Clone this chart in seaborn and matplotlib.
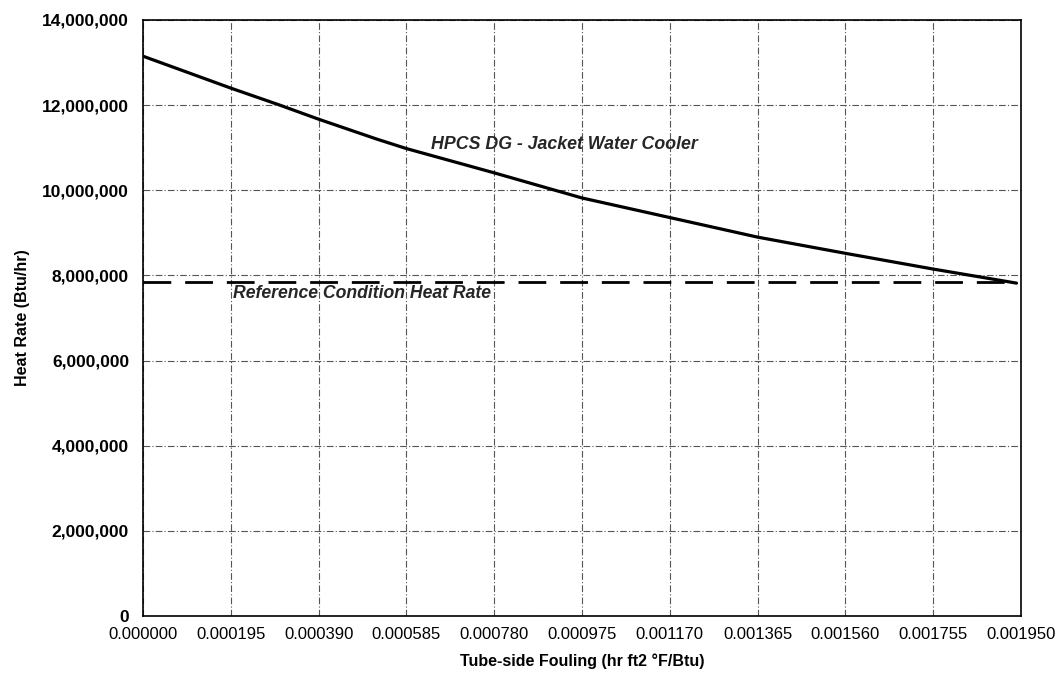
import matplotlib
matplotlib.use("Agg")
import matplotlib.pyplot as plt
import matplotlib.ticker as mticker
import seaborn as sns
import pandas as pd
import numpy as np

# Data
fouling = [0.0, 0.000195, 0.000304, 0.00039, 0.00052, 0.000585, 0.00078, 0.000975,
           0.00117, 0.001365, 0.00156, 0.001755, 0.00194]
heat_rate = [13150000, 12400000, 12000000, 11670000, 11200000, 10980000, 10410000,
             9820000, 9360000, 8900000, 8520000, 8150000, 7820000]
ref_fouling = [0.0, 0.00194]
ref_heat_rate = [7850000, 7850000]
x_ticks = [0.0, 0.000195, 0.00039, 0.000585, 0.00078, 0.000975, 0.00117,
           0.001365, 0.00156, 0.001755, 0.00195]
y_ticks = [0, 2000000, 4000000, 6000000, 8000000, 10000000, 12000000, 14000000]

sns.set_theme(style="white")
plt.rcParams['font.family'] = ['Liberation Sans', 'DejaVu Sans']

fig = plt.figure(figsize=(10.64, 6.8), dpi=100)
ax = fig.add_axes([0.1344, 0.094, 0.8252, 0.8766])

df = pd.DataFrame({"x": fouling, "y": heat_rate})
dref = pd.DataFrame({"x": ref_fouling, "y": ref_heat_rate})

sns.lineplot(data=df, x="x", y="y", ax=ax, color="black", linewidth=2.3, zorder=3)
sns.lineplot(data=dref, x="x", y="y", ax=ax, color="black", linewidth=2.0,
             dashes=False, zorder=3)
ax.lines[-1].set_dashes([10, 5])

ax.set_xlim(0, 0.00195)
ax.set_ylim(0, 14000000)
ax.set_xticks(x_ticks)
ax.set_yticks(y_ticks)
ax.xaxis.set_major_formatter(mticker.FuncFormatter(lambda v, p: f"{v:.6f}"))
ax.yaxis.set_major_formatter(mticker.FuncFormatter(lambda v, p: f"{int(round(v)):,}"))

ax.grid(True, color="#555555", linestyle=(0, (6, 2, 1, 2)), linewidth=0.8)
for s in ax.spines.values():
    s.set_color("black")
    s.set_linewidth(1.2)

ax.tick_params(axis="both", which="major", labelsize=12.5, colors="black",
               direction="out", length=4, width=1)
ax.tick_params(axis="x", pad=4, labelsize=12)
ax.tick_params(axis="y", pad=6)
for lab in ax.get_yticklabels():
    lab.set_fontweight("bold")

ax.set_xlabel("Tube-side Fouling (hr ft2 °F/Btu)", fontsize=11.5, fontweight="bold",
              labelpad=8, color="black")
ax.set_ylabel("Heat Rate (Btu/hr)", fontsize=11.5, fontweight="bold", color="black")
ax.yaxis.set_label_coords(-0.129, 0.5)

ax.text(0.00064, 11080000, "HPCS DG - Jacket Water Cooler", fontsize=12.8,
        fontweight="bold", fontstyle="italic", va="center", ha="left")
ax.text(0.0002, 7580000, "Reference Condition Heat Rate", fontsize=12.7,
        fontweight="bold", fontstyle="italic", va="center", ha="left")

fig.savefig("out.png", dpi=100, facecolor="white")
